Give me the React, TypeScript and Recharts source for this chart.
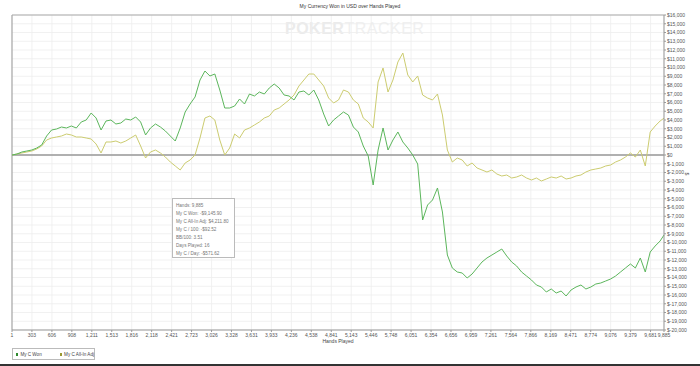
import React from "react";
import { LineChart, Line, XAxis, YAxis, CartesianGrid, ReferenceLine } from "recharts";

const hands = [
  1, 76, 151, 226, 301, 376, 451, 526, 601, 676, 751, 826, 901, 976, 1051, 1126, 1201, 1276, 1351, 1426,
  1501, 1576, 1651, 1726, 1801, 1876, 1951, 2026, 2101, 2176, 2251, 2326, 2401, 2476, 2551, 2626, 2701, 2776, 2851, 2926,
  3001, 3076, 3151, 3226, 3301, 3376, 3451, 3526, 3601, 3676, 3751, 3826, 3901, 3976, 4051, 4126, 4201, 4276, 4351, 4426,
  4501, 4576, 4651, 4726, 4801, 4876, 4951, 5026, 5101, 5176, 5251, 5326, 5401, 5476, 5551, 5626, 5701, 5776, 5851, 5926,
  6001, 6076, 6151, 6226, 6301, 6376, 6451, 6526, 6601, 6676, 6751, 6826, 6901, 6976, 7051, 7126, 7201, 7276, 7351, 7426,
  7501, 7576, 7651, 7726, 7801, 7876, 7951, 8026, 8101, 8176, 8251, 8326, 8401, 8476, 8551, 8626, 8701, 8776, 8851, 8926,
  9001, 9076, 9151, 9226, 9301, 9376, 9451, 9526, 9601, 9676, 9751, 9826, 9885,
];

const myCWon = [
  0, 114, 343, 457, 571, 800, 1143, 2171, 2857, 2971, 3200, 3086, 3314, 3086, 3771, 4000, 4800, 4229, 2857, 3886,
  4000, 3543, 3657, 4114, 4000, 4343, 3771, 2286, 3086, 3543, 3200, 2743, 2171, 1600, 3086, 4914, 5829, 6629, 8571, 9600,
  9029, 9257, 7429, 5371, 5371, 5600, 6400, 5829, 6971, 6743, 7200, 6971, 7657, 8114, 7657, 6857, 6743, 6286, 7200, 7314,
  6857, 7429, 6286, 4686, 3314, 4000, 4457, 4914, 4571, 3200, 2629, 1029, -114, -3429, 571, 3086, 571, 1714, 2629, 1486,
  800, 0, -1029, -7429, -5714, -5143, -3771, -6514, -11429, -12914, -13371, -13486, -14057, -13600, -12914, -12229, -11771, -11429, -11086, -10743,
  -11543, -12229, -12686, -13371, -13829, -14286, -14857, -15086, -15657, -15314, -15771, -15543, -16114, -15429, -15086, -14857, -15314, -15086, -14743, -14629,
  -14400, -14171, -13829, -13371, -12914, -12457, -12914, -11771, -13371, -11086, -10400, -9829, -9146,
];

const myCAllInAdj = [
  0, 114, 229, 343, 457, 686, 1029, 1714, 1943, 2057, 2171, 2400, 2286, 2057, 2057, 1943, 1829, 1257, 229, 1486,
  1486, 1600, 1371, 1600, 1943, 2286, 1029, -343, 343, 571, 229, -229, -800, -1257, -1714, -914, -571, 0, 1943, 4229,
  4457, 4000, 1714, 0, 800, 2400, 1943, 2857, 3086, 3429, 3771, 4229, 4457, 5143, 5371, 5829, 6286, 6857, 7886, 8571,
  9257, 9257, 8571, 7886, 6514, 5943, 6286, 7429, 7200, 6286, 5829, 4229, 3771, 3086, 8343, 9943, 7200, 8571, 10629, 11657,
  9143, 8343, 9029, 6857, 6514, 6286, 6971, 4571, 571, -800, -343, -571, -1257, -914, -1486, -1714, -1943, -1714, -2171, -2400,
  -2286, -2629, -2514, -2286, -2629, -2857, -2629, -2971, -2743, -2514, -2629, -2400, -2743, -2629, -2400, -2286, -1943, -1714, -1600, -1486,
  -1257, -1143, -800, -571, -229, 229, -229, 571, -1257, 2629, 3314, 3886, 4212,
];

const xTicks = [
  1, 303, 606, 908, 1211, 1513, 1816, 2118, 2421, 2723, 3026, 3328, 3631, 3933, 4236, 4538, 4841, 5143, 5446, 5748,
  6051, 6354, 6656, 6959, 7261, 7564, 7866, 8169, 8471, 8774, 9076, 9379, 9681, 9885,
];

const yTicks = [
  -20000, -19000, -18000, -17000, -16000, -15000, -14000, -13000, -12000, -11000, -10000, -9000, -8000, -7000, -6000,
  -5000, -4000, -3000, -2000, -1000, 0, 1000, 2000, 3000, 4000, 5000, 6000, 7000, 8000, 9000, 10000, 11000, 12000,
  13000, 14000, 15000, 16000,
];

const title = "My Currency Won in USD over Hands Played";
const seriesNames = ["My C Won", "My C All-In Adj"];
const infoLines = [
  "Hands: 9,885",
  "My C Won: -$9,145.90",
  "My C All-In Adj: $4,211.80",
  "My C / 100: -$92.52",
  "BB/100: 3.51",
  "Days Played: 16",
  "My C / Day: -$571.62",
];

const data = hands.map((h, i) => ({ hand: h, won: myCWon[i], adj: myCAllInAdj[i] }));

const fmtNum = (n: number) => Math.abs(n).toLocaleString("en-US");
const fmtY = (v: number) => (v < 0 ? "$-" + fmtNum(v) : "$" + fmtNum(v));

const FONT = "'Liberation Sans', Arial, sans-serif";
const GREEN = "#5cb65c";
const OLIVE = "#cccc70";

export default function App() {
  return (
    <div style={{ position: "absolute", left: 0, top: 0, width: 700, height: 366, background: "#fff", fontFamily: FONT, overflow: "hidden" }}>
      <div style={{ position: "absolute", left: 0, width: 700, top: 3, textAlign: "center", fontSize: 5, color: "#333" }}>{title}</div>
      <div style={{ position: "absolute", left: 285, top: 20, fontSize: 16, fontWeight: 700, letterSpacing: 0.5, color: "#ebebeb", whiteSpace: "nowrap" }}>
        POKER<span style={{ fontWeight: 400, color: "#f0f0f0" }}>TRACKER</span>
      </div>
      <LineChart width={700} height={366} data={data} margin={{ top: 15, right: 0, bottom: 26, left: 12 }} style={{ position: "absolute", left: 0, top: 0 }}>
        <CartesianGrid stroke="#ededed" strokeWidth={0.8} />
        <XAxis
          dataKey="hand"
          type="number"
          domain={[1, 9885]}
          ticks={xTicks}
          interval={0}
          tickFormatter={fmtNum}
          tick={{ fontSize: 5, fill: "#555", fontFamily: FONT }}
          tickSize={2}
          tickMargin={1}
          height={10}
          stroke="#999"
        />
        <YAxis
          orientation="right"
          domain={[-20000, 16000]}
          ticks={yTicks}
          interval={0}
          tickFormatter={fmtY}
          tick={{ fontSize: 5, fill: "#555", fontFamily: FONT }}
          tickSize={2}
          tickMargin={1}
          width={36}
          stroke="#999"
        />
        <ReferenceLine x={1} stroke="#999" />
        <ReferenceLine y={16000} stroke="#aaa" />
        <ReferenceLine y={0} stroke="#999" strokeWidth={1.5} />
        <Line type="linear" dataKey="adj" stroke={OLIVE} strokeWidth={1} dot={false} isAnimationActive={false} />
        <Line type="linear" dataKey="won" stroke={GREEN} strokeWidth={1} dot={false} isAnimationActive={false} />
      </LineChart>
      <div style={{ position: "absolute", left: 686, top: 171, fontSize: 5, color: "#555", transform: "rotate(90deg)" }}>$</div>
      <div style={{ position: "absolute", left: 0, width: 676, top: 338, textAlign: "center", fontSize: 5, color: "#444" }}>Hands Played</div>
      <div style={{ position: "absolute", left: 172, top: 198, width: 63, height: 60, border: "1px solid #bbb", boxSizing: "border-box", padding: "3px 0 0 3px", background: "#fff" }}>
        {infoLines.map((t) => (
          <div key={t} style={{ fontSize: 4.6, lineHeight: "8px", color: "#777", whiteSpace: "nowrap" }}>{t}</div>
        ))}
      </div>
      <div style={{ position: "absolute", left: 12, top: 348, width: 83, height: 12, border: "1px solid #bbb", boxSizing: "border-box", display: "flex", alignItems: "center", fontSize: 4.6, color: "#444" }}>
        <span style={{ display: "inline-block", width: 3, height: 3, background: "#2f8a2f", marginLeft: 3, marginRight: 2 }} />
        <span style={{ whiteSpace: "nowrap" }}>{seriesNames[0]}</span>
        <span style={{ display: "inline-block", width: 3, height: 3, background: "#9a9a30", marginLeft: 18, marginRight: 2 }} />
        <span style={{ whiteSpace: "nowrap" }}>{seriesNames[1]}</span>
      </div>
      <div style={{ position: "absolute", left: 0, top: 364, width: 700, height: 2, background: "#333" }} />
    </div>
  );
}
